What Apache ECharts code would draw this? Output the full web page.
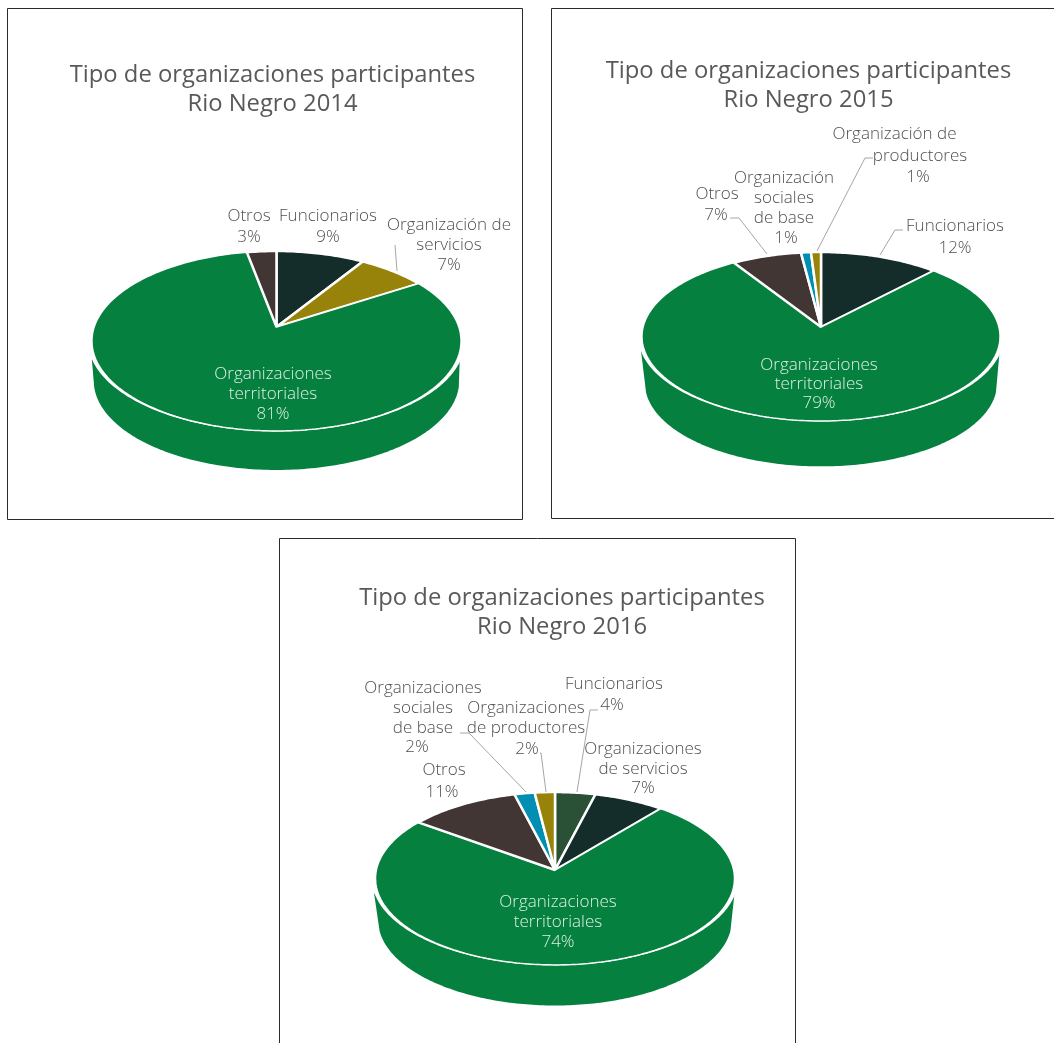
<!DOCTYPE html>
<html>
<head>
<meta charset="utf-8">
<style>html,body{margin:0;padding:0;background:#fff;overflow:hidden}#c{width:1054px;height:1043px}</style>
<script src="https://cdn.jsdelivr.net/npm/echarts@6/dist/echarts.min.js"></script>
</head>
<body>
<div id="c"></div>
<script>
// ---------- data ----------
const titles = [
  'Tipo de organizaciones participantes\nRio Negro 2014',
  'Tipo de organizaciones participantes\nRio Negro 2015',
  'Tipo de organizaciones participantes\nRio Negro 2016'
];
const categories2014 = ['Funcionarios', 'Organización de\nservicios', 'Organizaciones\nterritoriales', 'Otros'];
const values2014 = [9, 7, 81, 3];
const categories2015 = ['Funcionarios', 'Organizaciones\nterritoriales', 'Otros', 'Organización\nsociales\nde base', 'Organización de\nproductores'];
const values2015 = [12, 79, 7, 1, 1];
const categories2016 = ['Funcionarios', 'Organizaciones\nde servicios', 'Organizaciones\nterritoriales', 'Otros', 'Organizaciones\nsociales\nde base', 'Organizaciones\nde productores'];
const values2016 = [4, 7, 74, 11, 2, 2];

// ---------- styles ----------
const GREEN = '#05803f', DARK = '#142c2a', OLIVE = '#97830a', BROWN = '#423635', BLUE = '#008fb3', MOSS = '#2a5135';
const colors2014 = [DARK, OLIVE, GREEN, BROWN];
const colors2015 = [DARK, GREEN, BROWN, BLUE, OLIVE];
const colors2016 = [MOSS, DARK, GREEN, BROWN, BLUE, OLIVE];
const FONT = '"Open Sans", Lato, sans-serif';
const TEXT = '#505050', TEXT_IN = '#dcefe3', LEADER = '#a6a6a6';

// ---------- layout: projection of each pie and label / leader placement ----------
// label line positions: one [x, y] per text line (last line = the percent)
const pies = [
  { cx: 276.5, cy: 327, k: 0.1556, a: 87.8, b: 182.3, wallDy: 40, wallS: 0.99, wallTop: 19, green: 2,
    names: categories2014, values: values2014, colors: colors2014,
    labels: [
      [[328, 216], [328, 237]],
      [[449, 225], [449, 245], [449, 265]],
      [[273, 374], [273, 394], [273, 414]],
      [[249, 216], [249, 237]]
    ],
    leaders: [[[395, 245], [397, 271]]] },
  { cx: 821, cy: 327, k: 0.1124, a: 83.4, b: 177.9, wallDy: 47, wallS: 0.983, wallTop: 13, green: 1,
    names: categories2015, values: values2015, colors: colors2015,
    labels: [
      [[955, 226], [955, 248]],
      [[819, 365], [819, 384], [819, 403]],
      [[717, 194], [716, 215]],
      [[784, 178.5], [784, 198.5], [784, 218.5], [786, 238.5]],
      [[894.5, 134.5], [920, 156.5], [918, 177.5]]
    ],
    leaders: [
      [[903, 230], [895, 230], [880, 255]],
      [[730, 218], [739, 218], [767, 254]],
      [[873, 158], [865, 158], [817, 251]]
    ] },
  { cx: 555, cy: 870, k: 0.098, a: 85.6, b: 178.6, wallDy: 42, wallS: 0.985, wallTop: 15, green: 2,
    names: categories2016, values: values2016, colors: colors2016,
    labels: [
      [[614, 684], [612, 705]],
      [[643, 749], [643, 769], [643, 788]],
      [[558, 902], [558, 922], [558, 942]],
      [[444, 770], [442, 792]],
      [[423, 688], [423, 708], [423, 728], [417, 747]],
      [[526, 708], [526, 728], [527, 749]]
    ],
    leaders: [
      [[598, 710], [590, 710], [577, 792]],
      [[460, 733], [469, 733], [526, 792]],
      [[540, 753], [541, 753], [546, 792]]
    ] }
];
const titleBoxes = [[272.5, 61], [808.5, 56.5], [562, 583.5]];
const frames = [[7, 8, 515, 511], [551, 8, 520, 510], [279, 538, 516, 520]];

// ---------- projection: a point of the pie's unit circle seen in perspective ----------
function project(p, frac, dy, s) {
  const t = frac * 2 * Math.PI, x = Math.sin(t), y = -Math.cos(t), w = 1 / (1 - p.k * y);
  return [p.cx + (s || 1) * p.b * x * w, p.cy + (dy || 0) + (s || 1) * p.a * y * w];
}
function arc(p, f0, f1, dy, s) {
  const n = Math.max(2, Math.ceil(Math.abs(f1 - f0) * 360)), pts = [];
  for (let i = 0; i <= n; i++) pts.push(project(p, f0 + (f1 - f0) * i / n, dy, s));
  return pts;
}

function makeSeries(p, pi) {
  let acc = 0;
  const total = p.values.reduce((a, b) => a + b, 0);
  const data = p.values.map((v, i) => {
    const row = { name: p.names[i], value: [v, acc / total, (acc + v) / total, i] };
    acc += v;
    return row;
  });
  return {
    type: 'custom',
    coordinateSystem: 'none',
    silent: true,
    animation: false,
    data: data,
    renderItem: function (params, api) {
      const f0 = api.value(1), f1 = api.value(2), i = api.value(3);
      const children = [];
      if (i === p.green) {
        // side wall below the front of the slice
        const fa = Math.max(f0, 0.285), fb = Math.min(f1, 0.715);
        const lower = arc(p, fa, fb, p.wallDy, p.wallS);
        const yTop = p.cy + p.a * p.k + p.wallTop;
        const rightEdge = p.cx + p.b * 1.005, leftEdge = p.cx - p.b * 1.01 - 0.5;
        children.push({ type: 'polygon', shape: { points: [[rightEdge, yTop]].concat(lower, [[leftEdge, yTop]]) },
          style: { fill: p.colors[i] } });
        // white seam between wall and top face
        const seam = arc(p, f0, f1).map(q => [p.cx + (q[0] - p.cx) * 1.02, q[1] + 0.4]);
        children.push({ type: 'polygon', shape: { points: [[p.cx, p.cy]].concat(seam) }, style: { fill: '#fff' } });
      }
      children.push({ type: 'polygon',
        shape: { points: [[p.cx, p.cy]].concat(arc(p, f0, f1)) },
        style: { fill: p.colors[i], stroke: '#fff', lineWidth: i === p.green ? 1.5 : 2.5, lineJoin: 'bevel' } });
      // labels are drawn by the last datum so nothing covers them
      if (i === p.values.length - 1) {
        p.leaders.forEach(l => children.push({ type: 'polyline', shape: { points: l },
          style: { stroke: LEADER, lineWidth: 1, fill: 'none' } }));
        p.labels.forEach((pos, j) => {
          const lines = (p.names[j] + '\n' + p.values[j] + '%').split('\n');
          lines.forEach((txt, li) => children.push({ type: 'text',
            style: { text: txt, x: pos[li][0], y: pos[li][1], align: 'center', verticalAlign: 'middle',
              fill: j === p.green ? TEXT_IN : TEXT, font: '300 17px ' + FONT } }));
        });
      }
      return { type: 'group', children: children };
    }
  };
}

const chart = echarts.init(document.getElementById('c'), null, { renderer: 'canvas' });
chart.setOption({
  animation: false,
  backgroundColor: '#fff',
  title: titles.map((t, i) => ({
    text: t, left: titleBoxes[i][0], top: titleBoxes[i][1], textAlign: 'center', padding: 0,
    textStyle: { fontFamily: FONT, fontSize: 23.8, fontWeight: 'normal', color: '#595959', lineHeight: 29 }
  })),
  graphic: frames.map(f => ({
    type: 'rect', silent: true, z: -1,
    shape: { x: f[0] + 0.5, y: f[1] + 0.5, width: f[2], height: f[3] },
    style: { fill: 'none', stroke: '#2b2b2b', lineWidth: 1 }
  })),
  series: pies.map(makeSeries)
});
</script>
</body>
</html>
